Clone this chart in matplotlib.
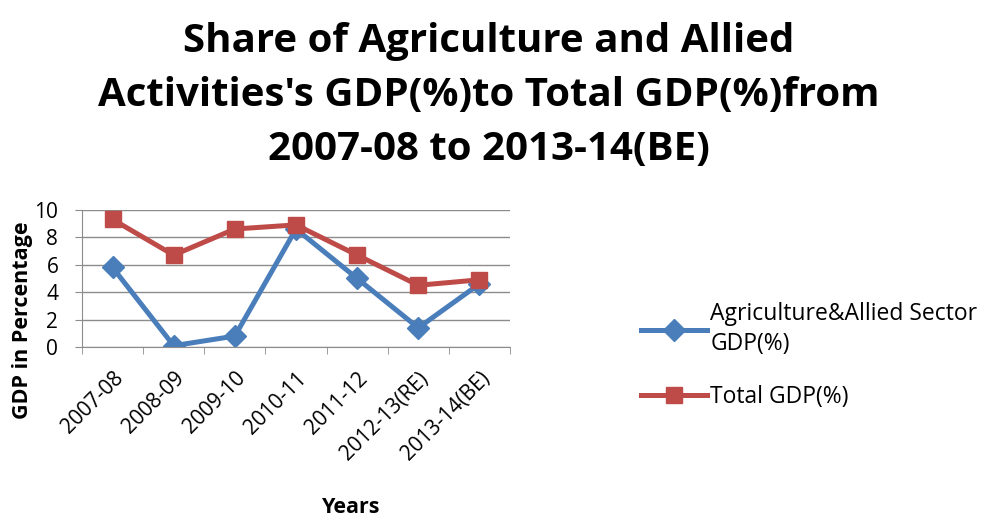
import numpy as np
import matplotlib.pyplot as plt

years = ['2007-08', '2008-09', '2009-10', '2010-11', '2011-12', '2012-13(RE)', '2013-14(BE)']
agri_gdp = [5.8, 0.1, 0.8, 8.6, 5.0, 1.4, 4.6]
total_gdp = [9.3, 6.7, 8.6, 8.9, 6.7, 4.5, 4.9]
yticks = [0, 2, 4, 6, 8, 10]

plt.rcParams['font.family'] = ['Open Sans', 'DejaVu Sans']

fig = plt.figure(figsize=(9.84, 5.18), dpi=100)
ax = fig.add_axes([0.0833, 0.330, 0.435, 0.265])

x = np.arange(len(years))
ax.plot(x, agri_gdp, color='#4A7EBB', lw=3.6, marker='D', ms=11,
        label='Agriculture&Allied Sector\nGDP(%)')
ax.plot(x, total_gdp, color='#BE4B48', lw=3.6, marker='s', ms=11,
        label='Total GDP(%)')

ax.set_xlim(-0.5, len(years) - 0.5)
ax.set_ylim(0, 10)
ax.set_yticks(yticks)
ax.set_xticks(x)
ax.set_xticklabels(years, rotation=45, ha='right', rotation_mode='anchor', fontsize=15)
ax.set_xticks(np.arange(len(years) + 1) - 0.5, minor=True)
ax.tick_params(axis='x', which='major', length=0, pad=15)
ax.tick_params(axis='x', which='minor', length=5, color='#8C8C8C', direction='out')
ax.tick_params(axis='y', length=5, color='#8C8C8C', labelsize=15, pad=12)
ax.grid(axis='y', color='#8C8C8C', lw=1)
ax.set_axisbelow(True)
for s in ['top', 'right']:
    ax.spines[s].set_visible(False)
for s in ['left', 'bottom']:
    ax.spines[s].set_color('#8C8C8C')

fig.text(0.497, 0.815, "Share of Agriculture and Allied\nActivities's GDP(%)to Total GDP(%)from\n2007-08 to 2013-14(BE)",
         ha='center', va='center', fontsize=29, fontweight='bold', linespacing=1.5)
fig.text(0.023, 0.382, 'GDP in Percentage', rotation=90, ha='center', va='center',
         fontsize=15.5, fontweight='bold')
fig.text(0.357, 0.021, 'Years', ha='center', va='center', fontsize=15.5, fontweight='bold')

leg = fig.legend(loc='center left', bbox_to_anchor=(0.630, 0.313), frameon=False, fontsize=16.5,
                 handlelength=2.9, labelspacing=1.3, handletextpad=0.15)
for t in leg.get_texts():
    t.set_linespacing(1.3)

fig.savefig('out.png', dpi=100)
